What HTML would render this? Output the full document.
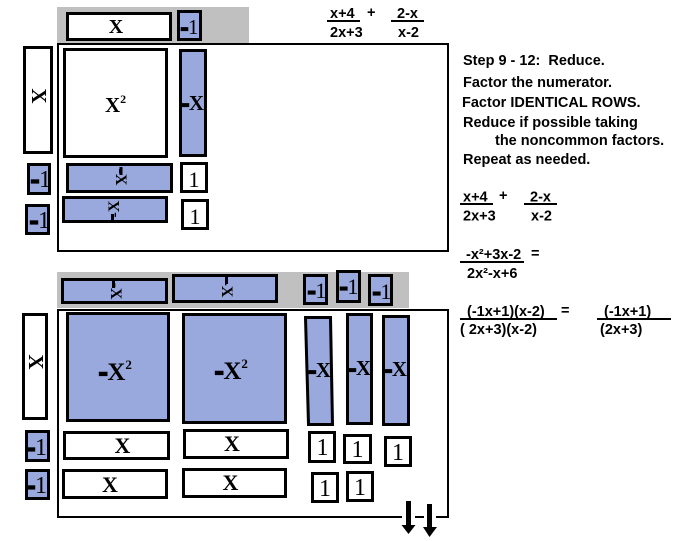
<!DOCTYPE html>
<html><head><meta charset="utf-8"><style>
html,body{margin:0;padding:0;background:#fff;}
svg{display:block}
.s{font-family:"Liberation Serif",serif;font-weight:bold;}
.r{font-family:"Liberation Serif",serif;font-weight:normal;}
.a{font-family:"Liberation Sans",sans-serif;font-weight:bold;font-size:14.5px;}
.b{fill:#99a9dd;stroke:#000;stroke-width:3;}
.w{fill:#fff;stroke:#000;stroke-width:3;}
.m{font-weight:bold;stroke:#000;stroke-width:2.2;}
</style></head><body>
<svg width="679" height="541" viewBox="0 0 679 541" xmlns="http://www.w3.org/2000/svg">
<!-- TOP SECTION -->
<rect x="57" y="7" width="192" height="36" fill="#c0c0c0"/>
<rect class="w" x="67.5" y="13.5" width="103" height="26"/>
<text class="s" x="116" y="33" font-size="20" text-anchor="middle">X</text>
<rect class="b" x="178.5" y="11.5" width="22" height="28"/>
<text class="r" x="181" y="34" font-size="21"><tspan class="m">-</tspan>1</text>

<rect x="58" y="44" width="390" height="207" fill="none" stroke="#000" stroke-width="2"/>

<rect class="w" x="24.5" y="47.5" width="27" height="105"/>
<text class="s" font-size="21" text-anchor="middle" transform="translate(39,96) rotate(90)" y="7">X</text>

<rect class="w" x="64.5" y="49.5" width="102" height="107"/>
<text class="s" x="105" y="112" font-size="21">X<tspan font-size="12" dy="-9">2</tspan></text>

<rect class="b" x="180.5" y="50.5" width="25" height="105"/>
<text class="s" x="193" y="110" font-size="21" text-anchor="middle"><tspan class="m">-</tspan>X</text>

<rect class="b" x="28.5" y="164.5" width="21" height="29"/>
<text class="r" x="31" y="187" font-size="24"><tspan class="m">-</tspan>1</text>

<rect class="b" x="67.5" y="164.5" width="104" height="27"/>
<text class="s" font-size="16" text-anchor="middle" transform="translate(121,177) rotate(90)" y="5">-X</text>
<rect x="119.5" y="167" width="3" height="8" fill="#000"/>

<rect class="w" x="181.5" y="163.5" width="25" height="28"/>
<text class="r" x="194" y="187" font-size="22" text-anchor="middle">1</text>

<rect class="b" x="26.5" y="205.5" width="22" height="28"/>
<text class="r" x="30" y="228" font-size="24"><tspan class="m">-</tspan>1</text>

<rect class="b" x="63.5" y="197.5" width="103" height="24"/>
<text class="s" font-size="16" text-anchor="middle" transform="translate(114,209) rotate(-90)" y="5">-X</text>
<rect x="111" y="214" width="3" height="8" fill="#000"/>

<rect class="w" x="182.5" y="200.5" width="25" height="28"/>
<text class="r" x="195" y="224" font-size="22" text-anchor="middle">1</text>

<!-- top fraction -->
<text class="a" x="330" y="18">x+4</text>
<line x1="327" y1="21" x2="360" y2="21" stroke="#000" stroke-width="2"/>
<text class="a" x="330" y="37">2x+3</text>
<text class="a" x="367" y="17">+</text>
<text class="a" x="397" y="18">2-x</text>
<line x1="391" y1="21" x2="424" y2="21" stroke="#000" stroke-width="2"/>
<text class="a" x="398" y="37">x-2</text>

<!-- Step text -->
<text class="a" x="463" y="65">Step 9 - 12:&#160; Reduce.</text>
<text class="a" x="463" y="87">Factor the numerator.</text>
<text class="a" x="462" y="107">Factor IDENTICAL ROWS.</text>
<text class="a" x="463" y="127">Reduce if possible taking</text>
<text class="a" x="495" y="145">the noncommon factors.</text>
<text class="a" x="463" y="164">Repeat as needed.</text>

<!-- right fractions -->
<text class="a" x="463" y="201.5">x+4</text>
<line x1="460" y1="204" x2="493" y2="204" stroke="#000" stroke-width="2"/>
<text class="a" x="463" y="220.5">2x+3</text>
<text class="a" x="499" y="200">+</text>
<text class="a" x="530" y="201.5">2-x</text>
<line x1="524" y1="204" x2="557" y2="204" stroke="#000" stroke-width="2"/>
<text class="a" x="531" y="220.5">x-2</text>

<text class="a" x="466" y="259">-x²+3x-2</text>
<text class="a" x="531" y="258">=</text>
<line x1="460" y1="262" x2="524" y2="262" stroke="#000" stroke-width="2"/>
<text class="a" x="467" y="278">2x²-x+6</text>

<text class="a" x="467" y="316">(-1x+1)(x-2)</text>
<text class="a" x="561" y="315">=</text>
<line x1="460" y1="319" x2="557" y2="319" stroke="#000" stroke-width="2"/>
<text class="a" x="460" y="334">( 2x+3)(x-2)</text>
<text class="a" x="604" y="316">(-1x+1)</text>
<line x1="597" y1="319" x2="671" y2="319" stroke="#000" stroke-width="2"/>
<text class="a" x="600" y="334">(2x+3)</text>

<!-- BOTTOM SECTION -->
<rect x="57" y="272" width="352" height="36" fill="#c0c0c0"/>
<rect class="b" x="62.5" y="279.5" width="104" height="23"/>
<text class="s" font-size="16" text-anchor="middle" transform="translate(116,291) rotate(90)" y="5">-X</text>
<rect x="112" y="281" width="3" height="7" fill="#000"/>
<rect class="b" x="173.5" y="275.5" width="103" height="26"/>
<text class="s" font-size="16" text-anchor="middle" transform="translate(227,289) rotate(90)" y="5">-X</text>
<rect x="225" y="277" width="3" height="7" fill="#000"/>

<rect class="b" x="304.5" y="275.5" width="22" height="28"/>
<text class="r" x="308" y="298" font-size="22"><tspan class="m">-</tspan>1</text>
<rect class="b" x="337.5" y="271.5" width="22" height="30"/>
<text class="r" x="340" y="294" font-size="22"><tspan class="m">-</tspan>1</text>
<rect class="b" x="369.5" y="275.5" width="22" height="29"/>
<text class="r" x="373" y="299" font-size="22"><tspan class="m">-</tspan>1</text>

<rect x="58" y="310" width="390" height="207" fill="none" stroke="#000" stroke-width="2"/>

<rect class="w" x="23.5" y="314.5" width="23" height="104"/>
<text class="s" font-size="21" text-anchor="middle" transform="translate(36,362) rotate(90)" y="7">X</text>

<rect class="b" x="67.5" y="313.5" width="101" height="107"/>
<text class="s" x="99" y="380" font-size="25"><tspan class="m">-</tspan>X<tspan font-size="13" dy="-11">2</tspan></text>
<rect class="b" x="183.5" y="314.5" width="102" height="108"/>
<text class="s" x="215" y="379" font-size="25"><tspan class="m">-</tspan>X<tspan font-size="13" dy="-11">2</tspan></text>

<polygon class="b" points="305.5,317.5 330.5,317.5 332.5,424.5 308.5,424.5"/>
<text class="s" x="320" y="377" font-size="21" text-anchor="middle"><tspan class="m">-</tspan>X</text>
<rect class="b" x="347.5" y="314.5" width="24" height="109"/>
<text class="s" x="360" y="375" font-size="21" text-anchor="middle"><tspan class="m">-</tspan>X</text>
<rect class="b" x="383.5" y="316.5" width="25" height="108"/>
<text class="s" x="396" y="376" font-size="21" text-anchor="middle"><tspan class="m">-</tspan>X</text>

<rect class="b" x="26.5" y="431.5" width="22" height="29"/>
<text class="r" x="27" y="455" font-size="24"><tspan class="m">-</tspan>1</text>
<rect class="b" x="26.5" y="470.5" width="22" height="28"/>
<text class="r" x="27" y="493" font-size="24"><tspan class="m">-</tspan>1</text>

<rect class="w" x="64.5" y="432.5" width="104" height="26"/>
<text class="s" x="122.5" y="453" font-size="22" text-anchor="middle">X</text>
<rect class="w" x="184.5" y="430.5" width="103" height="27"/>
<text class="s" x="232" y="451" font-size="22" text-anchor="middle">X</text>
<rect class="w" x="63.5" y="470.5" width="103" height="27"/>
<text class="s" x="110" y="492" font-size="22" text-anchor="middle">X</text>
<rect class="w" x="183.5" y="469.5" width="102" height="27"/>
<text class="s" x="230.5" y="490" font-size="22" text-anchor="middle">X</text>

<rect class="w" x="309.5" y="432.5" width="25" height="29"/>
<text class="r" x="322.5" y="455" font-size="24" text-anchor="middle">1</text>
<rect class="w" x="344.5" y="435.5" width="26" height="27"/>
<text class="r" x="357.5" y="457" font-size="24" text-anchor="middle">1</text>
<rect class="w" x="385.5" y="437.5" width="25" height="28"/>
<text class="r" x="398" y="460" font-size="24" text-anchor="middle">1</text>
<rect class="w" x="312.5" y="473.5" width="25" height="28"/>
<text class="r" x="325" y="496" font-size="24" text-anchor="middle">1</text>
<rect class="w" x="347.5" y="472.5" width="25" height="28"/>
<text class="r" x="360" y="495" font-size="24" text-anchor="middle">1</text>

<!-- arrows -->
<rect x="402" y="514" width="13" height="8" fill="#fff"/>
<rect x="424" y="514" width="12" height="8" fill="#fff"/>
<rect x="406" y="501" width="5" height="25" fill="#000"/>
<polygon points="401.5,525 415.5,525 408.5,534" fill="#000"/>
<rect x="427" y="504" width="5" height="24" fill="#000"/>
<polygon points="423,527 437,527 429.5,537" fill="#000"/>
</svg>
</body></html>
